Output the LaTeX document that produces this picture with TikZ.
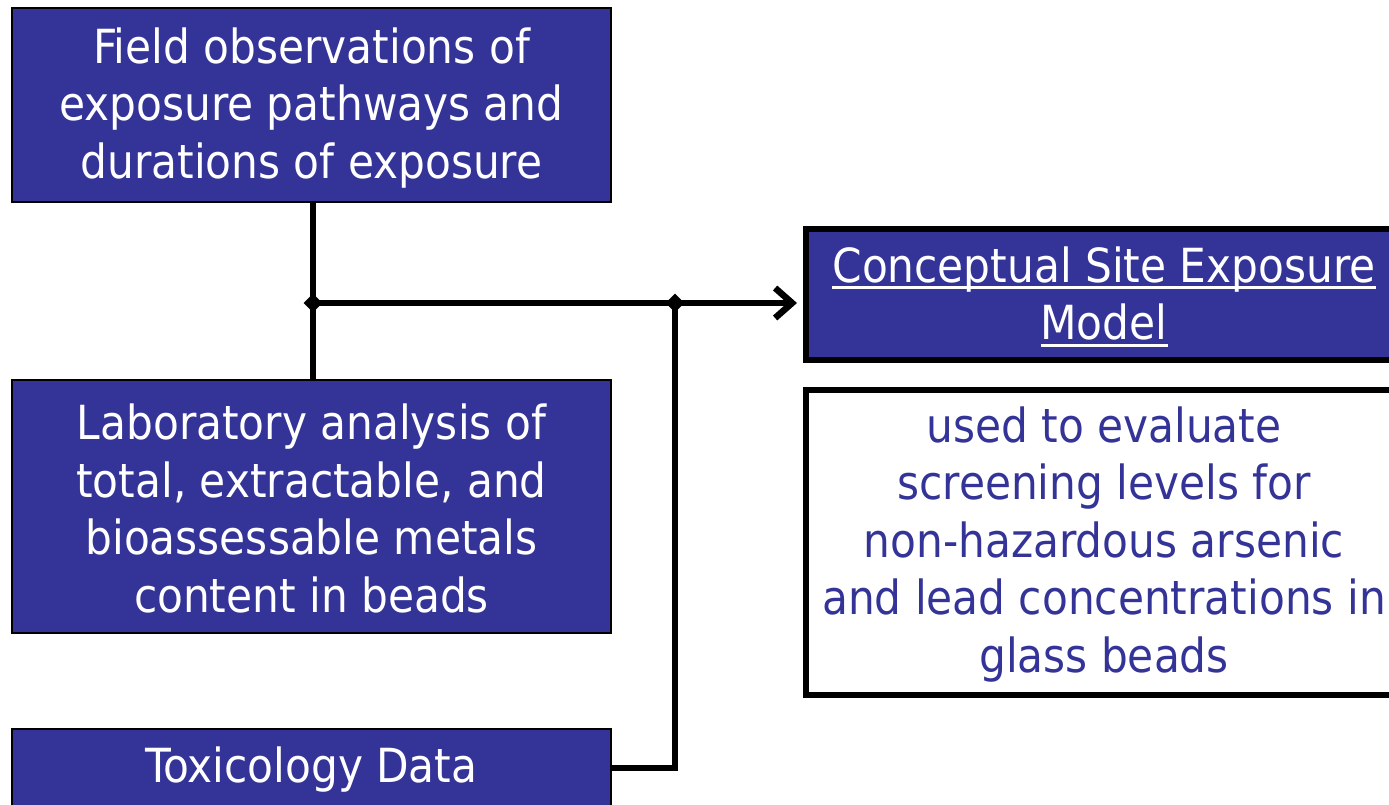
\documentclass[tikz,border=0pt]{standalone}
\usepackage{fontspec}
\setmainfont{DejaVu Sans Condensed}
\usetikzlibrary{arrows.meta,shapes.geometric}
\definecolor{boxblue}{HTML}{343498}
\newcommand\myul[1]{\setbox0\hbox{#1}\rlap{\rule[-7pt]{\wd0}{3pt}}\box0}
\tikzset{
  bluebox/.style={draw=black, line width=2pt, fill=boxblue, inner sep=0pt},
  thickbox/.style={draw=black, line width=6pt, inner sep=0pt},
  txt/.style={align=center, font=\fontsize{47}{57.5}\selectfont, inner sep=0pt},
  conn/.style={draw=black, line width=6.5pt},
  junct/.style={diamond, fill=black, inner sep=0pt, minimum width=19pt, minimum height=19pt}
}
\begin{document}
\begin{tikzpicture}[x=1pt,y=-1pt]
\useasboundingbox (0,0) rectangle (1389,804);
\clip (0,0) rectangle (1389,804);
\node[bluebox, minimum width=599pt, minimum height=194pt] (b1) at (311.5,105) {};
\node[txt, text=white] (t1) at ([yshift=-3pt]b1.center)
  {Field observations of\\exposure pathways and\\durations of exposure};
\node[bluebox, minimum width=599pt, minimum height=253pt] (b2) at (311.5,506.5) {};
\node[txt, text=white] (t2) at ([yshift=-2pt]b2.center)
  {Laboratory analysis of\\total, extractable, and\\bioassessable metals\\content in beads};
\node[bluebox, minimum width=599pt, minimum height=90pt] (b3) at (311.5,774) {};
\node[txt, text=white] (t3) at (311.5,770) {Toxicology Data};
\node[thickbox, fill=boxblue, minimum width=596pt, minimum height=131pt] (b4) at (1104,294.5) {};
\node[txt, text=white] (t4) at ([yshift=-2pt]b4.center)
  {\myul{Conceptual Site Exposure}\\\myul{Model}};
\node[thickbox, fill=white, minimum width=596pt, minimum height=305pt] (b5) at (1104,542.5) {};
\node[txt, text=boxblue] (t5) at ([yshift=-2pt]b5.center)
  {used to evaluate\\screening levels for\\non-hazardous arsenic\\and lead concentrations in\\glass beads};
\coordinate (j1) at (313,303);
\coordinate (j2) at (675,303);
\coordinate (c3) at (675,768);
\draw[conn] (b1.south -| j1) -- (b2.north -| j1);
\draw[conn, -{Straight Barb[length=17pt,width=30pt]}, shorten >=6pt] (j1) -- (b4.west |- j1);
\draw[conn, line join=miter] (b3.east |- c3) -- (c3) -- (j2);
\node[junct] at (j1) {};
\node[junct] at (j2) {};
\end{tikzpicture}
\end{document}
